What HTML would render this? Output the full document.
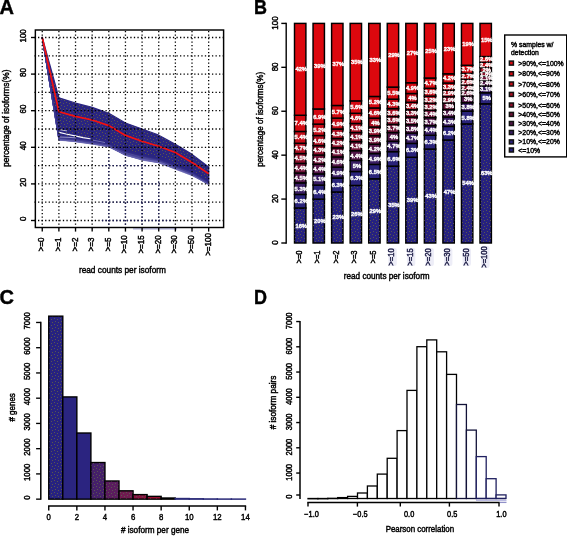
<!DOCTYPE html>
<html><head><meta charset="utf-8"><style>
html,body{margin:0;padding:0;background:#fff;}
svg{display:block;will-change:transform;}
text{font-family:"Liberation Sans", sans-serif;}
</style></head><body>
<svg width="567" height="536" viewBox="0 0 567 536">
<defs><clipPath id="clipA"><path d="M100,152 L126,158 L145,162 L165,190 L175,227 L100,227 Z"/></clipPath><pattern id="dots" patternUnits="userSpaceOnUse" x="0" y="0" width="6" height="6"><rect x="0" y="0" width="1" height="1" fill="#5a5650"/><rect x="3" y="1" width="1" height="1" fill="#5a5650"/><rect x="1" y="3" width="1" height="1" fill="#5a5650"/><rect x="4" y="4" width="1" height="1" fill="#5a5650"/></pattern></defs>
<rect x="0" y="0" width="567" height="536" fill="#fff"/>
<text transform="translate(-0.50,14.20)" font-size="20" text-anchor="start" font-weight="bold" fill="#000" stroke="#000" stroke-width="0.4" >A</text>
<path d="M42.25,37.50 L58.89,97.80 L75.53,103.20 L92.17,107.40 L108.81,113.30 L125.45,123.00 L142.09,129.00 L158.73,135.20 L175.37,144.30 L192.01,154.40 L208.65,167.00 L208.65,184.20 L192.01,174.80 L175.37,168.40 L158.73,162.00 L142.09,159.60 L125.45,155.20 L108.81,146.60 L92.17,143.50 L75.53,141.20 L58.89,139.50 L42.25,37.50 Z" fill="#8886c4" stroke="none" opacity="0.55"/>
<path d="M42.25,37.50 L58.89,97.80 L75.53,103.20 L92.17,107.40 L108.81,113.30 L125.45,123.00 L142.09,129.00 L158.73,135.20 L175.37,144.30 L192.01,154.40 L208.65,167.00 L208.65,182.70 L192.01,172.80 L175.37,165.60 L158.73,159.60 L142.09,156.00 L125.45,151.60 L108.81,144.60 L92.17,141.60 L75.53,139.40 L58.89,137.80 L42.25,37.50 Z" fill="#2a2581" stroke="#2a2581" stroke-width="1.3" stroke-linejoin="round"/>
<path d="M42.25,37.50 L58.89,97.80 L75.53,103.20 L92.17,107.40 L108.81,113.30 L125.45,123.00 L142.09,129.00 L158.73,135.20 L175.37,144.30 L192.01,154.40 L208.65,167.00 L208.65,182.70 L192.01,172.80 L175.37,165.60 L158.73,159.60 L142.09,156.00 L125.45,151.60 L108.81,144.60 L92.17,141.60 L75.53,139.40 L58.89,137.80 L42.25,37.50 Z" fill="url(#dots)" stroke="none"/>
<path d="M42.25,37.50 L58.89,137.00 L75.53,139.29 L92.17,140.87 L108.81,144.43 L125.45,151.87 L142.09,155.90 L158.73,159.60 L175.37,165.15 L192.01,172.51 L208.65,181.69" fill="none" stroke="#35308a" stroke-width="0.7"/>
<path d="M42.25,37.50 L58.89,136.30 L75.53,138.41 L92.17,139.79 L108.81,142.91 L125.45,150.63 L142.09,155.42 L158.73,158.41 L175.37,164.24 L192.01,172.02 L208.65,180.70" fill="none" stroke="#2b2682" stroke-width="0.7"/>
<path d="M42.25,37.50 L58.89,139.09 L75.53,140.69 L92.17,143.04 L108.81,146.26 L125.45,155.29 L142.09,158.93 L158.73,162.03 L175.37,168.37 L192.01,174.54 L208.65,184.03" fill="none" stroke="#5e5baa" stroke-width="0.7"/>
<path d="M42.25,37.50 L58.89,135.71 L75.53,137.51 L92.17,140.30 L108.81,142.99 L125.45,150.03 L142.09,154.76 L158.73,158.08 L175.37,163.93 L192.01,171.63 L208.65,181.34" fill="none" stroke="#2b2682" stroke-width="0.7"/>
<path d="M42.25,37.50 L58.89,137.18 L75.53,138.79 L92.17,141.47 L108.81,144.30 L125.45,151.29 L142.09,156.52 L158.73,158.73 L175.37,165.18 L192.01,172.53 L208.65,181.48" fill="none" stroke="#312c86" stroke-width="0.7"/>
<path d="M42.25,37.50 L58.89,137.50 L75.53,139.97 L92.17,142.40 L108.81,145.17 L125.45,153.44 L142.09,157.16 L158.73,160.60 L175.37,166.65 L192.01,173.38 L208.65,182.73" fill="none" stroke="#3f3b92" stroke-width="0.7"/>
<path d="M42.25,37.50 L58.89,139.81 L75.53,141.02 L92.17,143.62 L108.81,145.90 L125.45,155.06 L142.09,159.40 L158.73,162.45 L175.37,168.51 L192.01,174.37 L208.65,183.78" fill="none" stroke="#5c59a8" stroke-width="0.7"/>
<path d="M42.25,37.50 L58.89,138.13 L75.53,140.40 L92.17,142.39 L108.81,145.33 L125.45,153.42 L142.09,158.67 L158.73,160.71 L175.37,167.07 L192.01,173.86 L208.65,183.83" fill="none" stroke="#4d499c" stroke-width="0.7"/>
<path d="M42.25,37.50 L58.89,136.27 L75.53,138.02 L92.17,140.65 L108.81,143.57 L125.45,150.84 L142.09,154.53 L158.73,158.15 L175.37,164.12 L192.01,171.85 L208.65,181.74" fill="none" stroke="#2b2682" stroke-width="0.7"/>
<path d="M42.25,37.50 L58.89,136.29 L75.53,138.00 L92.17,140.25 L108.81,143.55 L125.45,151.03 L142.09,155.04 L158.73,158.08 L175.37,164.65 L192.01,171.61 L208.65,181.59" fill="none" stroke="#2d2884" stroke-width="0.7"/>
<path d="M42.25,37.50 L58.89,139.88 L75.53,141.46 L92.17,143.98 L108.81,147.05 L125.45,154.84 L142.09,160.25 L158.73,162.65 L175.37,169.05 L192.01,175.39 L208.65,184.13" fill="none" stroke="#6765b1" stroke-width="0.7"/>
<path d="M42.25,37.50 L58.89,137.24 L75.53,139.57 L92.17,141.18 L108.81,144.19 L125.45,152.13 L142.09,156.47 L158.73,159.76 L175.37,165.56 L192.01,172.31 L208.65,182.06" fill="none" stroke="#39358d" stroke-width="0.7"/>
<path d="M42.25,37.50 L58.89,136.28 L75.53,137.50 L92.17,140.75 L108.81,143.44 L125.45,150.14 L142.09,154.66 L158.73,158.20 L175.37,164.27 L192.01,171.05 L208.65,181.71" fill="none" stroke="#2c2782" stroke-width="0.7"/>
<path d="M42.25,37.50 L58.89,139.74 L75.53,141.56 L92.17,143.48 L108.81,146.50 L125.45,155.38 L142.09,159.68 L158.73,162.87 L175.37,168.37 L192.01,174.60 L208.65,184.92" fill="none" stroke="#6c69b4" stroke-width="0.7"/>
<path d="M42.25,37.50 L58.89,137.78 L75.53,139.97 L92.17,141.67 L108.81,145.27 L125.45,153.78 L142.09,158.04 L158.73,160.78 L175.37,166.43 L192.01,173.28 L208.65,182.52" fill="none" stroke="#423e94" stroke-width="0.7"/>
<path d="M42.25,37.50 L58.89,139.09 L75.53,141.15 L92.17,142.97 L108.81,145.84 L125.45,154.85 L142.09,159.46 L158.73,162.01 L175.37,168.19 L192.01,174.76 L208.65,184.00" fill="none" stroke="#5653a3" stroke-width="0.7"/>
<path d="M42.25,37.50 L58.89,137.04 L75.53,138.51 L92.17,140.38 L108.81,143.38 L125.45,151.17 L142.09,155.54 L158.73,159.33 L175.37,165.73 L192.01,172.08 L208.65,182.35" fill="none" stroke="#302b86" stroke-width="0.7"/>
<path d="M42.25,37.50 L58.89,140.31 L75.53,141.40 L92.17,143.62 L108.81,146.63 L125.45,155.18 L142.09,159.59 L158.73,162.60 L175.37,169.23 L192.01,175.57 L208.65,184.34" fill="none" stroke="#6b69b4" stroke-width="0.7"/>
<path d="M42.25,37.50 L58.89,139.00 L75.53,139.89 L92.17,142.92 L108.81,146.22 L125.45,154.21 L142.09,158.57 L158.73,161.06 L175.37,166.91 L192.01,174.28 L208.65,183.13" fill="none" stroke="#4c489b" stroke-width="0.7"/>
<path d="M42.25,37.50 L58.89,139.71 L75.53,140.79 L92.17,143.17 L108.81,146.82 L125.45,154.89 L142.09,158.63 L158.73,161.25 L175.37,167.53 L192.01,174.97 L208.65,184.17" fill="none" stroke="#5855a5" stroke-width="0.7"/>
<path d="M42.25,37.50 L58.89,137.05 L75.53,138.88 L92.17,140.73 L108.81,143.37 L125.45,150.95 L142.09,154.85 L158.73,158.07 L175.37,165.28 L192.01,171.92 L208.65,181.53" fill="none" stroke="#2d2883" stroke-width="0.7"/>
<path d="M42.25,37.50 L58.89,139.51 L75.53,141.82 L92.17,144.16 L108.81,146.42 L125.45,154.98 L142.09,159.43 L158.73,161.93 L175.37,168.63 L192.01,174.68 L208.65,184.11" fill="none" stroke="#6563af" stroke-width="0.7"/>
<path d="M42.25,37.50 L58.89,137.08 L75.53,138.05 L92.17,140.42 L108.81,143.57 L125.45,151.27 L142.09,155.09 L158.73,159.07 L175.37,164.63 L192.01,171.70 L208.65,181.46" fill="none" stroke="#2d2883" stroke-width="0.7"/>
<path d="M42.25,37.50 L58.89,135.89 L75.53,137.19 L92.17,139.19 L108.81,143.14 L125.45,149.46 L142.09,154.22 L158.73,158.07 L175.37,163.88 L192.01,170.77 L208.65,180.88" fill="none" stroke="#2a2581" stroke-width="0.7"/>
<path d="M42.25,37.50 L58.89,138.64 L75.53,139.55 L92.17,142.42 L108.81,145.05 L125.45,153.08 L142.09,158.08 L158.73,160.67 L175.37,166.92 L192.01,173.86 L208.65,183.51" fill="none" stroke="#444095" stroke-width="0.7"/>
<path d="M42.25,37.50 L58.89,138.02 L75.53,139.60 L92.17,141.91 L108.81,145.13 L125.45,152.67 L142.09,157.17 L158.73,160.13 L175.37,166.84 L192.01,173.33 L208.65,183.08" fill="none" stroke="#3c388f" stroke-width="0.7"/>
<path d="M59.2,132.4 L66,134.0 L75,135.9 L83,137.6 L90,138.8" stroke="#ffffff" stroke-width="1.1" fill="none" stroke-linecap="round"/>
<path d="M59.4,129.6 L63,130.3 L67,130.9" stroke="#ffffff" stroke-width="0.7" fill="none" opacity="0.9"/>
<path d="M59.5,137.0 L68,137.3 L76,137.9" stroke="#d8d8f0" stroke-width="0.7" fill="none" opacity="0.9"/>
<path d="M92,140.0 L100,141.5 L105,142.6" stroke="#c0c0e8" stroke-width="0.6" fill="none" opacity="0.8"/>
<path d="M42.25,37.50 L58.89,111.70 L75.53,116.40 L92.17,120.00 L108.81,125.60 L125.45,135.40 L142.09,141.30 L158.73,146.20 L175.37,152.50 L192.01,162.40 L208.65,173.80" fill="none" stroke="#f41010" stroke-width="1.7" stroke-linejoin="round"/>
<line x1="34.45" y1="37.50" x2="223.00" y2="37.50" stroke="#000" stroke-width="1.3" stroke-dasharray="1.3 2.25"/>
<line x1="34.45" y1="55.80" x2="223.00" y2="55.80" stroke="#000" stroke-width="1.3" stroke-dasharray="1.3 2.25"/>
<line x1="34.45" y1="74.10" x2="223.00" y2="74.10" stroke="#000" stroke-width="1.3" stroke-dasharray="1.3 2.25"/>
<line x1="34.45" y1="92.40" x2="223.00" y2="92.40" stroke="#000" stroke-width="1.3" stroke-dasharray="1.3 2.25"/>
<line x1="34.45" y1="110.70" x2="223.00" y2="110.70" stroke="#000" stroke-width="1.3" stroke-dasharray="1.3 2.25"/>
<line x1="34.45" y1="129.00" x2="223.00" y2="129.00" stroke="#000" stroke-width="1.3" stroke-dasharray="1.3 2.25"/>
<line x1="34.45" y1="147.30" x2="223.00" y2="147.30" stroke="#000" stroke-width="1.3" stroke-dasharray="1.3 2.25"/>
<line x1="34.45" y1="165.60" x2="223.00" y2="165.60" stroke="#000" stroke-width="1.3" stroke-dasharray="1.3 2.25"/>
<line x1="34.45" y1="183.90" x2="223.00" y2="183.90" stroke="#000" stroke-width="1.3" stroke-dasharray="1.3 2.25"/>
<line x1="34.45" y1="202.20" x2="223.00" y2="202.20" stroke="#000" stroke-width="1.3" stroke-dasharray="1.3 2.25"/>
<line x1="34.45" y1="220.50" x2="223.00" y2="220.50" stroke="#000" stroke-width="1.3" stroke-dasharray="1.3 2.25"/>
<line x1="42.25" y1="228.25" x2="42.25" y2="30.50" stroke="#000" stroke-width="1.3" stroke-dasharray="1.3 2.2"/>
<line x1="58.89" y1="228.25" x2="58.89" y2="30.50" stroke="#000" stroke-width="1.3" stroke-dasharray="1.3 2.2"/>
<line x1="75.53" y1="228.25" x2="75.53" y2="30.50" stroke="#000" stroke-width="1.3" stroke-dasharray="1.3 2.2"/>
<line x1="92.17" y1="228.25" x2="92.17" y2="30.50" stroke="#000" stroke-width="1.3" stroke-dasharray="1.3 2.2"/>
<line x1="108.81" y1="228.25" x2="108.81" y2="30.50" stroke="#000" stroke-width="1.3" stroke-dasharray="1.3 2.2"/>
<line x1="125.45" y1="228.25" x2="125.45" y2="30.50" stroke="#000" stroke-width="1.3" stroke-dasharray="1.3 2.2"/>
<line x1="142.09" y1="228.25" x2="142.09" y2="30.50" stroke="#000" stroke-width="1.3" stroke-dasharray="1.3 2.2"/>
<line x1="158.73" y1="228.25" x2="158.73" y2="30.50" stroke="#000" stroke-width="1.3" stroke-dasharray="1.3 2.2"/>
<line x1="175.37" y1="228.25" x2="175.37" y2="30.50" stroke="#000" stroke-width="1.3" stroke-dasharray="1.3 2.2"/>
<line x1="192.01" y1="228.25" x2="192.01" y2="30.50" stroke="#000" stroke-width="1.3" stroke-dasharray="1.3 2.2"/>
<line x1="208.65" y1="228.25" x2="208.65" y2="30.50" stroke="#000" stroke-width="1.3" stroke-dasharray="1.3 2.2"/>
<g clip-path="url(#clipA)">
<line x1="34.45" y1="37.50" x2="223.00" y2="37.50" stroke="#1a1a58" stroke-width="1.3" stroke-dasharray="1.3 2.25"/>
<line x1="34.45" y1="55.80" x2="223.00" y2="55.80" stroke="#1a1a58" stroke-width="1.3" stroke-dasharray="1.3 2.25"/>
<line x1="34.45" y1="74.10" x2="223.00" y2="74.10" stroke="#1a1a58" stroke-width="1.3" stroke-dasharray="1.3 2.25"/>
<line x1="34.45" y1="92.40" x2="223.00" y2="92.40" stroke="#1a1a58" stroke-width="1.3" stroke-dasharray="1.3 2.25"/>
<line x1="34.45" y1="110.70" x2="223.00" y2="110.70" stroke="#1a1a58" stroke-width="1.3" stroke-dasharray="1.3 2.25"/>
<line x1="34.45" y1="129.00" x2="223.00" y2="129.00" stroke="#1a1a58" stroke-width="1.3" stroke-dasharray="1.3 2.25"/>
<line x1="34.45" y1="147.30" x2="223.00" y2="147.30" stroke="#1a1a58" stroke-width="1.3" stroke-dasharray="1.3 2.25"/>
<line x1="34.45" y1="165.60" x2="223.00" y2="165.60" stroke="#1a1a58" stroke-width="1.3" stroke-dasharray="1.3 2.25"/>
<line x1="34.45" y1="183.90" x2="223.00" y2="183.90" stroke="#1a1a58" stroke-width="1.3" stroke-dasharray="1.3 2.25"/>
<line x1="34.45" y1="202.20" x2="223.00" y2="202.20" stroke="#1a1a58" stroke-width="1.3" stroke-dasharray="1.3 2.25"/>
<line x1="34.45" y1="220.50" x2="223.00" y2="220.50" stroke="#1a1a58" stroke-width="1.3" stroke-dasharray="1.3 2.25"/>
<line x1="42.25" y1="228.25" x2="42.25" y2="30.50" stroke="#1a1a58" stroke-width="1.3" stroke-dasharray="1.3 2.2"/>
<line x1="58.89" y1="228.25" x2="58.89" y2="30.50" stroke="#1a1a58" stroke-width="1.3" stroke-dasharray="1.3 2.2"/>
<line x1="75.53" y1="228.25" x2="75.53" y2="30.50" stroke="#1a1a58" stroke-width="1.3" stroke-dasharray="1.3 2.2"/>
<line x1="92.17" y1="228.25" x2="92.17" y2="30.50" stroke="#1a1a58" stroke-width="1.3" stroke-dasharray="1.3 2.2"/>
<line x1="108.81" y1="228.25" x2="108.81" y2="30.50" stroke="#1a1a58" stroke-width="1.3" stroke-dasharray="1.3 2.2"/>
<line x1="125.45" y1="228.25" x2="125.45" y2="30.50" stroke="#1a1a58" stroke-width="1.3" stroke-dasharray="1.3 2.2"/>
<line x1="142.09" y1="228.25" x2="142.09" y2="30.50" stroke="#1a1a58" stroke-width="1.3" stroke-dasharray="1.3 2.2"/>
<line x1="158.73" y1="228.25" x2="158.73" y2="30.50" stroke="#1a1a58" stroke-width="1.3" stroke-dasharray="1.3 2.2"/>
<line x1="175.37" y1="228.25" x2="175.37" y2="30.50" stroke="#1a1a58" stroke-width="1.3" stroke-dasharray="1.3 2.2"/>
<line x1="192.01" y1="228.25" x2="192.01" y2="30.50" stroke="#1a1a58" stroke-width="1.3" stroke-dasharray="1.3 2.2"/>
<line x1="208.65" y1="228.25" x2="208.65" y2="30.50" stroke="#1a1a58" stroke-width="1.3" stroke-dasharray="1.3 2.2"/>
</g>
<line x1="133.00" y1="228.80" x2="177.00" y2="228.80" stroke="#b0b0dc" stroke-width="1.3" />
<rect x="35.35" y="30.00" width="188.25" height="197.50" fill="none" stroke="#000" stroke-width="1.45" />
<line x1="31.00" y1="220.50" x2="35.35" y2="220.50" stroke="#000" stroke-width="1.35" />
<text transform="translate(25.60,218.90) rotate(-90) scale(1.0,1.12)" font-size="8" text-anchor="middle" font-weight="normal" fill="#000" stroke="#000" stroke-width="0.4" >0</text>
<line x1="31.00" y1="183.90" x2="35.35" y2="183.90" stroke="#000" stroke-width="1.35" />
<text transform="translate(25.60,182.30) rotate(-90) scale(1.0,1.12)" font-size="8" text-anchor="middle" font-weight="normal" fill="#000" stroke="#000" stroke-width="0.4" >20</text>
<line x1="31.00" y1="147.30" x2="35.35" y2="147.30" stroke="#000" stroke-width="1.35" />
<text transform="translate(25.60,145.70) rotate(-90) scale(1.0,1.12)" font-size="8" text-anchor="middle" font-weight="normal" fill="#000" stroke="#000" stroke-width="0.4" >40</text>
<line x1="31.00" y1="110.70" x2="35.35" y2="110.70" stroke="#000" stroke-width="1.35" />
<text transform="translate(25.60,109.10) rotate(-90) scale(1.0,1.12)" font-size="8" text-anchor="middle" font-weight="normal" fill="#000" stroke="#000" stroke-width="0.4" >60</text>
<line x1="31.00" y1="74.10" x2="35.35" y2="74.10" stroke="#000" stroke-width="1.35" />
<text transform="translate(25.60,72.50) rotate(-90) scale(1.0,1.12)" font-size="8" text-anchor="middle" font-weight="normal" fill="#000" stroke="#000" stroke-width="0.4" >80</text>
<line x1="31.00" y1="37.50" x2="35.35" y2="37.50" stroke="#000" stroke-width="1.35" />
<text transform="translate(25.60,35.90) rotate(-90) scale(1.0,1.12)" font-size="8" text-anchor="middle" font-weight="normal" fill="#000" stroke="#000" stroke-width="0.4" >100</text>
<line x1="42.25" y1="227.50" x2="42.25" y2="231.60" stroke="#000" stroke-width="1.35" />
<text transform="translate(44.25,244.50) rotate(-90) scale(1.0,1.12)" font-size="8" text-anchor="middle" font-weight="normal" fill="#000" stroke="#000" stroke-width="0.4" >&gt;=0</text>
<line x1="58.89" y1="227.50" x2="58.89" y2="231.60" stroke="#000" stroke-width="1.35" />
<text transform="translate(60.89,244.50) rotate(-90) scale(1.0,1.12)" font-size="8" text-anchor="middle" font-weight="normal" fill="#000" stroke="#000" stroke-width="0.4" >&gt;=1</text>
<line x1="75.53" y1="227.50" x2="75.53" y2="231.60" stroke="#000" stroke-width="1.35" />
<text transform="translate(77.53,244.50) rotate(-90) scale(1.0,1.12)" font-size="8" text-anchor="middle" font-weight="normal" fill="#000" stroke="#000" stroke-width="0.4" >&gt;=2</text>
<line x1="92.17" y1="227.50" x2="92.17" y2="231.60" stroke="#000" stroke-width="1.35" />
<text transform="translate(94.17,244.50) rotate(-90) scale(1.0,1.12)" font-size="8" text-anchor="middle" font-weight="normal" fill="#000" stroke="#000" stroke-width="0.4" >&gt;=3</text>
<line x1="108.81" y1="227.50" x2="108.81" y2="231.60" stroke="#000" stroke-width="1.35" />
<text transform="translate(110.81,244.50) rotate(-90) scale(1.0,1.12)" font-size="8" text-anchor="middle" font-weight="normal" fill="#000" stroke="#000" stroke-width="0.4" >&gt;=5</text>
<line x1="125.45" y1="227.50" x2="125.45" y2="231.60" stroke="#000" stroke-width="1.35" />
<text transform="translate(127.45,244.50) rotate(-90) scale(1.0,1.12)" font-size="8" text-anchor="middle" font-weight="normal" fill="#000" stroke="#000" stroke-width="0.4" >&gt;=10</text>
<line x1="142.09" y1="227.50" x2="142.09" y2="231.60" stroke="#000" stroke-width="1.35" />
<text transform="translate(144.09,244.50) rotate(-90) scale(1.0,1.12)" font-size="8" text-anchor="middle" font-weight="normal" fill="#000" stroke="#000" stroke-width="0.4" >&gt;=15</text>
<line x1="158.73" y1="227.50" x2="158.73" y2="231.60" stroke="#000" stroke-width="1.35" />
<text transform="translate(160.73,244.50) rotate(-90) scale(1.0,1.12)" font-size="8" text-anchor="middle" font-weight="normal" fill="#000" stroke="#000" stroke-width="0.4" >&gt;=20</text>
<line x1="175.37" y1="227.50" x2="175.37" y2="231.60" stroke="#000" stroke-width="1.35" />
<text transform="translate(177.37,244.50) rotate(-90) scale(1.0,1.12)" font-size="8" text-anchor="middle" font-weight="normal" fill="#000" stroke="#000" stroke-width="0.4" >&gt;=30</text>
<line x1="192.01" y1="227.50" x2="192.01" y2="231.60" stroke="#000" stroke-width="1.35" />
<text transform="translate(194.01,244.50) rotate(-90) scale(1.0,1.12)" font-size="8" text-anchor="middle" font-weight="normal" fill="#000" stroke="#000" stroke-width="0.4" >&gt;=50</text>
<line x1="208.65" y1="227.50" x2="208.65" y2="231.60" stroke="#000" stroke-width="1.35" />
<text transform="translate(210.65,244.50) rotate(-90) scale(1.0,1.12)" font-size="8" text-anchor="middle" font-weight="normal" fill="#000" stroke="#000" stroke-width="0.4" >&gt;=100</text>
<text transform="translate(122.40,273.00) scale(1.0,1.12)" font-size="8.3" text-anchor="middle" font-weight="normal" fill="#000" stroke="#000" stroke-width="0.4" >read counts per isoform</text>
<text transform="translate(9.20,118.20) rotate(-90) scale(1.0,1.12)" font-size="8.3" text-anchor="middle" font-weight="normal" fill="#000" stroke="#000" stroke-width="0.4" >percentage of isoforms(%)</text>
<text transform="translate(254.00,13.90) scale(0.9,1.0)" font-size="20" text-anchor="start" font-weight="bold" fill="#000" stroke="#000" stroke-width="0.4" >B</text>
<line x1="286.20" y1="22.80" x2="286.20" y2="243.70" stroke="#000" stroke-width="1.4" />
<line x1="281.30" y1="243.00" x2="286.20" y2="243.00" stroke="#000" stroke-width="1.4" />
<text transform="translate(277.80,242.60) rotate(-90) scale(1.0,1.12)" font-size="8" text-anchor="middle" font-weight="normal" fill="#000" stroke="#000" stroke-width="0.4" >0</text>
<line x1="281.30" y1="199.08" x2="286.20" y2="199.08" stroke="#000" stroke-width="1.4" />
<text transform="translate(277.80,198.68) rotate(-90) scale(1.0,1.12)" font-size="8" text-anchor="middle" font-weight="normal" fill="#000" stroke="#000" stroke-width="0.4" >20</text>
<line x1="281.30" y1="155.16" x2="286.20" y2="155.16" stroke="#000" stroke-width="1.4" />
<text transform="translate(277.80,154.76) rotate(-90) scale(1.0,1.12)" font-size="8" text-anchor="middle" font-weight="normal" fill="#000" stroke="#000" stroke-width="0.4" >40</text>
<line x1="281.30" y1="111.24" x2="286.20" y2="111.24" stroke="#000" stroke-width="1.4" />
<text transform="translate(277.80,110.84) rotate(-90) scale(1.0,1.12)" font-size="8" text-anchor="middle" font-weight="normal" fill="#000" stroke="#000" stroke-width="0.4" >60</text>
<line x1="281.30" y1="67.32" x2="286.20" y2="67.32" stroke="#000" stroke-width="1.4" />
<text transform="translate(277.80,66.92) rotate(-90) scale(1.0,1.12)" font-size="8" text-anchor="middle" font-weight="normal" fill="#000" stroke="#000" stroke-width="0.4" >80</text>
<line x1="281.30" y1="23.40" x2="286.20" y2="23.40" stroke="#000" stroke-width="1.4" />
<text transform="translate(277.80,23.00) rotate(-90) scale(1.0,1.12)" font-size="8" text-anchor="middle" font-weight="normal" fill="#000" stroke="#000" stroke-width="0.4" >100</text>
<rect x="294.50" y="208.00" width="11.40" height="35.00" fill="#262180" stroke="#000" stroke-width="1.45" />
<rect x="294.50" y="208.00" width="11.40" height="35.00" fill="url(#dots)" stroke="none" stroke-width="1" />
<rect x="294.50" y="194.44" width="11.40" height="13.56" fill="#2a237a" stroke="#000" stroke-width="1.45" />
<rect x="294.50" y="182.85" width="11.40" height="11.59" fill="#3a1e64" stroke="#000" stroke-width="1.45" />
<rect x="294.50" y="173.01" width="11.40" height="9.84" fill="#521648" stroke="#000" stroke-width="1.45" />
<rect x="294.50" y="163.38" width="11.40" height="9.62" fill="#6e1337" stroke="#000" stroke-width="1.45" />
<rect x="294.50" y="153.54" width="11.40" height="9.84" fill="#8c102a" stroke="#000" stroke-width="1.45" />
<rect x="294.50" y="143.26" width="11.40" height="10.28" fill="#aa0f21" stroke="#000" stroke-width="1.45" />
<rect x="294.50" y="131.45" width="11.40" height="11.81" fill="#c30d18" stroke="#000" stroke-width="1.45" />
<rect x="294.50" y="115.26" width="11.40" height="16.19" fill="#d40a12" stroke="#000" stroke-width="1.45" />
<rect x="294.50" y="23.40" width="11.40" height="91.86" fill="#dc080e" stroke="#000" stroke-width="1.45" />
<text transform="translate(301.20,227.50) scale(1.0,1.05)" font-size="5.8" text-anchor="middle" font-weight="bold" fill="#fff" stroke="#fff" stroke-width="0.35" >16%</text>
<text transform="translate(301.20,203.22) scale(1.0,1.05)" font-size="5.8" text-anchor="middle" font-weight="bold" fill="#fff" stroke="#fff" stroke-width="0.35" >6.2%</text>
<text transform="translate(301.20,190.65) scale(1.0,1.05)" font-size="5.8" text-anchor="middle" font-weight="bold" fill="#fff" stroke="#fff" stroke-width="0.35" >5.3%</text>
<text transform="translate(301.20,179.93) scale(1.0,1.05)" font-size="5.8" text-anchor="middle" font-weight="bold" fill="#fff" stroke="#fff" stroke-width="0.35" >4.5%</text>
<text transform="translate(301.20,170.20) scale(1.0,1.05)" font-size="5.8" text-anchor="middle" font-weight="bold" fill="#fff" stroke="#fff" stroke-width="0.35" >4.4%</text>
<text transform="translate(301.20,160.46) scale(1.0,1.05)" font-size="5.8" text-anchor="middle" font-weight="bold" fill="#fff" stroke="#fff" stroke-width="0.35" >4.5%</text>
<text transform="translate(301.20,150.40) scale(1.0,1.05)" font-size="5.8" text-anchor="middle" font-weight="bold" fill="#fff" stroke="#fff" stroke-width="0.35" >4.7%</text>
<text transform="translate(301.20,139.36) scale(1.0,1.05)" font-size="5.8" text-anchor="middle" font-weight="bold" fill="#fff" stroke="#fff" stroke-width="0.35" >5.4%</text>
<text transform="translate(301.20,125.36) scale(1.0,1.05)" font-size="5.8" text-anchor="middle" font-weight="bold" fill="#fff" stroke="#fff" stroke-width="0.35" >7.4%</text>
<text transform="translate(301.20,71.33) scale(1.0,1.05)" font-size="5.8" text-anchor="middle" font-weight="bold" fill="#fff" stroke="#fff" stroke-width="0.35" >42%</text>
<text transform="translate(301.60,257.00) rotate(-90) scale(1.0,1.12)" font-size="7.6" text-anchor="middle" font-weight="normal" fill="#000" stroke="#000" stroke-width="0.4" >&gt;=0</text>
<rect x="313.05" y="199.12" width="11.40" height="43.88" fill="#262180" stroke="#000" stroke-width="1.45" />
<rect x="313.05" y="199.12" width="11.40" height="43.88" fill="url(#dots)" stroke="none" stroke-width="1" />
<rect x="313.05" y="185.08" width="11.40" height="14.04" fill="#2a237a" stroke="#000" stroke-width="1.45" />
<rect x="313.05" y="173.90" width="11.40" height="11.19" fill="#3a1e64" stroke="#000" stroke-width="1.45" />
<rect x="313.05" y="164.24" width="11.40" height="9.65" fill="#521648" stroke="#000" stroke-width="1.45" />
<rect x="313.05" y="155.03" width="11.40" height="9.21" fill="#6e1337" stroke="#000" stroke-width="1.45" />
<rect x="313.05" y="145.60" width="11.40" height="9.43" fill="#8c102a" stroke="#000" stroke-width="1.45" />
<rect x="313.05" y="135.50" width="11.40" height="10.09" fill="#aa0f21" stroke="#000" stroke-width="1.45" />
<rect x="313.05" y="124.10" width="11.40" height="11.41" fill="#c30d18" stroke="#000" stroke-width="1.45" />
<rect x="313.05" y="108.96" width="11.40" height="15.14" fill="#d40a12" stroke="#000" stroke-width="1.45" />
<rect x="313.05" y="23.40" width="11.40" height="85.56" fill="#dc080e" stroke="#000" stroke-width="1.45" />
<text transform="translate(319.75,223.06) scale(1.0,1.05)" font-size="5.8" text-anchor="middle" font-weight="bold" fill="#fff" stroke="#fff" stroke-width="0.35" >20%</text>
<text transform="translate(319.75,194.10) scale(1.0,1.05)" font-size="5.8" text-anchor="middle" font-weight="bold" fill="#fff" stroke="#fff" stroke-width="0.35" >6.4%</text>
<text transform="translate(319.75,181.49) scale(1.0,1.05)" font-size="5.8" text-anchor="middle" font-weight="bold" fill="#fff" stroke="#fff" stroke-width="0.35" >5.1%</text>
<text transform="translate(319.75,171.07) scale(1.0,1.05)" font-size="5.8" text-anchor="middle" font-weight="bold" fill="#fff" stroke="#fff" stroke-width="0.35" >4.4%</text>
<text transform="translate(319.75,161.64) scale(1.0,1.05)" font-size="5.8" text-anchor="middle" font-weight="bold" fill="#fff" stroke="#fff" stroke-width="0.35" >4.2%</text>
<text transform="translate(319.75,152.31) scale(1.0,1.05)" font-size="5.8" text-anchor="middle" font-weight="bold" fill="#fff" stroke="#fff" stroke-width="0.35" >4.3%</text>
<text transform="translate(319.75,142.55) scale(1.0,1.05)" font-size="5.8" text-anchor="middle" font-weight="bold" fill="#fff" stroke="#fff" stroke-width="0.35" >4.6%</text>
<text transform="translate(319.75,131.80) scale(1.0,1.05)" font-size="5.8" text-anchor="middle" font-weight="bold" fill="#fff" stroke="#fff" stroke-width="0.35" >5.2%</text>
<text transform="translate(319.75,118.53) scale(1.0,1.05)" font-size="5.8" text-anchor="middle" font-weight="bold" fill="#fff" stroke="#fff" stroke-width="0.35" >6.9%</text>
<text transform="translate(319.75,68.18) scale(1.0,1.05)" font-size="5.8" text-anchor="middle" font-weight="bold" fill="#fff" stroke="#fff" stroke-width="0.35" >39%</text>
<text transform="translate(320.15,257.00) rotate(-90) scale(1.0,1.12)" font-size="7.6" text-anchor="middle" font-weight="normal" fill="#000" stroke="#000" stroke-width="0.4" >&gt;=1</text>
<rect x="331.60" y="191.98" width="11.40" height="51.02" fill="#262180" stroke="#000" stroke-width="1.45" />
<rect x="331.60" y="191.98" width="11.40" height="51.02" fill="url(#dots)" stroke="none" stroke-width="1" />
<rect x="331.60" y="178.01" width="11.40" height="13.97" fill="#2a237a" stroke="#000" stroke-width="1.45" />
<rect x="331.60" y="167.14" width="11.40" height="10.87" fill="#3a1e64" stroke="#000" stroke-width="1.45" />
<rect x="331.60" y="156.93" width="11.40" height="10.20" fill="#521648" stroke="#000" stroke-width="1.45" />
<rect x="331.60" y="147.84" width="11.40" height="9.09" fill="#6e1337" stroke="#000" stroke-width="1.45" />
<rect x="331.60" y="138.52" width="11.40" height="9.32" fill="#8c102a" stroke="#000" stroke-width="1.45" />
<rect x="331.60" y="128.99" width="11.40" height="9.54" fill="#aa0f21" stroke="#000" stroke-width="1.45" />
<rect x="331.60" y="118.12" width="11.40" height="10.87" fill="#c30d18" stroke="#000" stroke-width="1.45" />
<rect x="331.60" y="105.47" width="11.40" height="12.64" fill="#d40a12" stroke="#000" stroke-width="1.45" />
<rect x="331.60" y="23.40" width="11.40" height="82.07" fill="#dc080e" stroke="#000" stroke-width="1.45" />
<text transform="translate(338.30,219.49) scale(1.0,1.05)" font-size="5.8" text-anchor="middle" font-weight="bold" fill="#fff" stroke="#fff" stroke-width="0.35" >23%</text>
<text transform="translate(338.30,186.99) scale(1.0,1.05)" font-size="5.8" text-anchor="middle" font-weight="bold" fill="#fff" stroke="#fff" stroke-width="0.35" >6.3%</text>
<text transform="translate(338.30,174.57) scale(1.0,1.05)" font-size="5.8" text-anchor="middle" font-weight="bold" fill="#fff" stroke="#fff" stroke-width="0.35" >4.9%</text>
<text transform="translate(338.30,164.04) scale(1.0,1.05)" font-size="5.8" text-anchor="middle" font-weight="bold" fill="#fff" stroke="#fff" stroke-width="0.35" >4.6%</text>
<text transform="translate(338.30,154.39) scale(1.0,1.05)" font-size="5.8" text-anchor="middle" font-weight="bold" fill="#fff" stroke="#fff" stroke-width="0.35" >4.1%</text>
<text transform="translate(338.30,145.18) scale(1.0,1.05)" font-size="5.8" text-anchor="middle" font-weight="bold" fill="#fff" stroke="#fff" stroke-width="0.35" >4.2%</text>
<text transform="translate(338.30,135.75) scale(1.0,1.05)" font-size="5.8" text-anchor="middle" font-weight="bold" fill="#fff" stroke="#fff" stroke-width="0.35" >4.3%</text>
<text transform="translate(338.30,125.55) scale(1.0,1.05)" font-size="5.8" text-anchor="middle" font-weight="bold" fill="#fff" stroke="#fff" stroke-width="0.35" >4.9%</text>
<text transform="translate(338.30,113.79) scale(1.0,1.05)" font-size="5.8" text-anchor="middle" font-weight="bold" fill="#fff" stroke="#fff" stroke-width="0.35" >5.7%</text>
<text transform="translate(338.30,66.44) scale(1.0,1.05)" font-size="5.8" text-anchor="middle" font-weight="bold" fill="#fff" stroke="#fff" stroke-width="0.35" >37%</text>
<text transform="translate(338.70,257.00) rotate(-90) scale(1.0,1.12)" font-size="7.6" text-anchor="middle" font-weight="normal" fill="#000" stroke="#000" stroke-width="0.4" >&gt;=2</text>
<rect x="350.15" y="185.44" width="11.40" height="57.56" fill="#262180" stroke="#000" stroke-width="1.45" />
<rect x="350.15" y="185.44" width="11.40" height="57.56" fill="url(#dots)" stroke="none" stroke-width="1" />
<rect x="350.15" y="171.50" width="11.40" height="13.95" fill="#2a237a" stroke="#000" stroke-width="1.45" />
<rect x="350.15" y="160.43" width="11.40" height="11.07" fill="#3a1e64" stroke="#000" stroke-width="1.45" />
<rect x="350.15" y="150.69" width="11.40" height="9.74" fill="#521648" stroke="#000" stroke-width="1.45" />
<rect x="350.15" y="141.61" width="11.40" height="9.08" fill="#6e1337" stroke="#000" stroke-width="1.45" />
<rect x="350.15" y="132.54" width="11.40" height="9.08" fill="#8c102a" stroke="#000" stroke-width="1.45" />
<rect x="350.15" y="123.46" width="11.40" height="9.08" fill="#aa0f21" stroke="#000" stroke-width="1.45" />
<rect x="350.15" y="113.28" width="11.40" height="10.18" fill="#c30d18" stroke="#000" stroke-width="1.45" />
<rect x="350.15" y="100.88" width="11.40" height="12.40" fill="#d40a12" stroke="#000" stroke-width="1.45" />
<rect x="350.15" y="23.40" width="11.40" height="77.48" fill="#dc080e" stroke="#000" stroke-width="1.45" />
<text transform="translate(356.85,216.22) scale(1.0,1.05)" font-size="5.8" text-anchor="middle" font-weight="bold" fill="#fff" stroke="#fff" stroke-width="0.35" >26%</text>
<text transform="translate(356.85,180.47) scale(1.0,1.05)" font-size="5.8" text-anchor="middle" font-weight="bold" fill="#fff" stroke="#fff" stroke-width="0.35" >6.3%</text>
<text transform="translate(356.85,167.96) scale(1.0,1.05)" font-size="5.8" text-anchor="middle" font-weight="bold" fill="#fff" stroke="#fff" stroke-width="0.35" >5%</text>
<text transform="translate(356.85,157.56) scale(1.0,1.05)" font-size="5.8" text-anchor="middle" font-weight="bold" fill="#fff" stroke="#fff" stroke-width="0.35" >4.4%</text>
<text transform="translate(356.85,148.15) scale(1.0,1.05)" font-size="5.8" text-anchor="middle" font-weight="bold" fill="#fff" stroke="#fff" stroke-width="0.35" >4.1%</text>
<text transform="translate(356.85,139.07) scale(1.0,1.05)" font-size="5.8" text-anchor="middle" font-weight="bold" fill="#fff" stroke="#fff" stroke-width="0.35" >4.1%</text>
<text transform="translate(356.85,130.00) scale(1.0,1.05)" font-size="5.8" text-anchor="middle" font-weight="bold" fill="#fff" stroke="#fff" stroke-width="0.35" >4.1%</text>
<text transform="translate(356.85,120.37) scale(1.0,1.05)" font-size="5.8" text-anchor="middle" font-weight="bold" fill="#fff" stroke="#fff" stroke-width="0.35" >4.6%</text>
<text transform="translate(356.85,109.08) scale(1.0,1.05)" font-size="5.8" text-anchor="middle" font-weight="bold" fill="#fff" stroke="#fff" stroke-width="0.35" >5.6%</text>
<text transform="translate(356.85,64.14) scale(1.0,1.05)" font-size="5.8" text-anchor="middle" font-weight="bold" fill="#fff" stroke="#fff" stroke-width="0.35" >35%</text>
<text transform="translate(357.25,257.00) rotate(-90) scale(1.0,1.12)" font-size="7.6" text-anchor="middle" font-weight="normal" fill="#000" stroke="#000" stroke-width="0.4" >&gt;=3</text>
<rect x="368.70" y="178.80" width="11.40" height="64.20" fill="#262180" stroke="#000" stroke-width="1.45" />
<rect x="368.70" y="178.80" width="11.40" height="64.20" fill="url(#dots)" stroke="none" stroke-width="1" />
<rect x="368.70" y="164.41" width="11.40" height="14.39" fill="#2a237a" stroke="#000" stroke-width="1.45" />
<rect x="368.70" y="153.57" width="11.40" height="10.85" fill="#3a1e64" stroke="#000" stroke-width="1.45" />
<rect x="368.70" y="144.27" width="11.40" height="9.30" fill="#521648" stroke="#000" stroke-width="1.45" />
<rect x="368.70" y="135.64" width="11.40" height="8.63" fill="#6e1337" stroke="#000" stroke-width="1.45" />
<rect x="368.70" y="127.00" width="11.40" height="8.63" fill="#8c102a" stroke="#000" stroke-width="1.45" />
<rect x="368.70" y="118.15" width="11.40" height="8.85" fill="#aa0f21" stroke="#000" stroke-width="1.45" />
<rect x="368.70" y="107.96" width="11.40" height="10.18" fill="#c30d18" stroke="#000" stroke-width="1.45" />
<rect x="368.70" y="96.45" width="11.40" height="11.51" fill="#d40a12" stroke="#000" stroke-width="1.45" />
<rect x="368.70" y="23.40" width="11.40" height="73.05" fill="#dc080e" stroke="#000" stroke-width="1.45" />
<text transform="translate(375.40,212.90) scale(1.0,1.05)" font-size="5.8" text-anchor="middle" font-weight="bold" fill="#fff" stroke="#fff" stroke-width="0.35" >29%</text>
<text transform="translate(375.40,173.61) scale(1.0,1.05)" font-size="5.8" text-anchor="middle" font-weight="bold" fill="#fff" stroke="#fff" stroke-width="0.35" >6.5%</text>
<text transform="translate(375.40,160.99) scale(1.0,1.05)" font-size="5.8" text-anchor="middle" font-weight="bold" fill="#fff" stroke="#fff" stroke-width="0.35" >4.9%</text>
<text transform="translate(375.40,150.92) scale(1.0,1.05)" font-size="5.8" text-anchor="middle" font-weight="bold" fill="#fff" stroke="#fff" stroke-width="0.35" >4.2%</text>
<text transform="translate(375.40,141.95) scale(1.0,1.05)" font-size="5.8" text-anchor="middle" font-weight="bold" fill="#fff" stroke="#fff" stroke-width="0.35" >3.9%</text>
<text transform="translate(375.40,133.32) scale(1.0,1.05)" font-size="5.8" text-anchor="middle" font-weight="bold" fill="#fff" stroke="#fff" stroke-width="0.35" >3.9%</text>
<text transform="translate(375.40,124.57) scale(1.0,1.05)" font-size="5.8" text-anchor="middle" font-weight="bold" fill="#fff" stroke="#fff" stroke-width="0.35" >4%</text>
<text transform="translate(375.40,115.06) scale(1.0,1.05)" font-size="5.8" text-anchor="middle" font-weight="bold" fill="#fff" stroke="#fff" stroke-width="0.35" >4.6%</text>
<text transform="translate(375.40,104.21) scale(1.0,1.05)" font-size="5.8" text-anchor="middle" font-weight="bold" fill="#fff" stroke="#fff" stroke-width="0.35" >5.2%</text>
<text transform="translate(375.40,61.93) scale(1.0,1.05)" font-size="5.8" text-anchor="middle" font-weight="bold" fill="#fff" stroke="#fff" stroke-width="0.35" >33%</text>
<text transform="translate(375.80,257.00) rotate(-90) scale(1.0,1.12)" font-size="7.6" text-anchor="middle" font-weight="normal" fill="#000" stroke="#000" stroke-width="0.4" >&gt;=5</text>
<rect x="387.25" y="166.14" width="11.40" height="76.86" fill="#262180" stroke="#000" stroke-width="1.45" />
<rect x="387.25" y="166.14" width="11.40" height="76.86" fill="url(#dots)" stroke="none" stroke-width="1" />
<rect x="387.25" y="151.65" width="11.40" height="14.49" fill="#2a237a" stroke="#000" stroke-width="1.45" />
<rect x="387.25" y="141.33" width="11.40" height="10.32" fill="#3a1e64" stroke="#000" stroke-width="1.45" />
<rect x="387.25" y="132.54" width="11.40" height="8.78" fill="#521648" stroke="#000" stroke-width="1.45" />
<rect x="387.25" y="124.42" width="11.40" height="8.13" fill="#6e1337" stroke="#000" stroke-width="1.45" />
<rect x="387.25" y="116.51" width="11.40" height="7.91" fill="#8c102a" stroke="#000" stroke-width="1.45" />
<rect x="387.25" y="108.60" width="11.40" height="7.91" fill="#aa0f21" stroke="#000" stroke-width="1.45" />
<rect x="387.25" y="99.16" width="11.40" height="9.44" fill="#c30d18" stroke="#000" stroke-width="1.45" />
<rect x="387.25" y="87.08" width="11.40" height="12.08" fill="#d40a12" stroke="#000" stroke-width="1.45" />
<rect x="387.25" y="23.40" width="11.40" height="63.68" fill="#dc080e" stroke="#000" stroke-width="1.45" />
<text transform="translate(393.95,206.57) scale(1.0,1.05)" font-size="5.8" text-anchor="middle" font-weight="bold" fill="#fff" stroke="#fff" stroke-width="0.35" >35%</text>
<text transform="translate(393.95,160.89) scale(1.0,1.05)" font-size="5.8" text-anchor="middle" font-weight="bold" fill="#fff" stroke="#fff" stroke-width="0.35" >6.6%</text>
<text transform="translate(393.95,148.49) scale(1.0,1.05)" font-size="5.8" text-anchor="middle" font-weight="bold" fill="#fff" stroke="#fff" stroke-width="0.35" >4.7%</text>
<text transform="translate(393.95,138.93) scale(1.0,1.05)" font-size="5.8" text-anchor="middle" font-weight="bold" fill="#fff" stroke="#fff" stroke-width="0.35" >4%</text>
<text transform="translate(393.95,130.48) scale(1.0,1.05)" font-size="5.8" text-anchor="middle" font-weight="bold" fill="#fff" stroke="#fff" stroke-width="0.35" >3.7%</text>
<text transform="translate(393.95,122.46) scale(1.0,1.05)" font-size="5.8" text-anchor="middle" font-weight="bold" fill="#fff" stroke="#fff" stroke-width="0.35" >3.6%</text>
<text transform="translate(393.95,114.56) scale(1.0,1.05)" font-size="5.8" text-anchor="middle" font-weight="bold" fill="#fff" stroke="#fff" stroke-width="0.35" >3.6%</text>
<text transform="translate(393.95,105.88) scale(1.0,1.05)" font-size="5.8" text-anchor="middle" font-weight="bold" fill="#fff" stroke="#fff" stroke-width="0.35" >4.3%</text>
<text transform="translate(393.95,95.12) scale(1.0,1.05)" font-size="5.8" text-anchor="middle" font-weight="bold" fill="#fff" stroke="#fff" stroke-width="0.35" >5.5%</text>
<text transform="translate(393.95,57.24) scale(1.0,1.05)" font-size="5.8" text-anchor="middle" font-weight="bold" fill="#fff" stroke="#fff" stroke-width="0.35" >29%</text>
<rect x="388.35" y="248.00" width="8.4" height="18" rx="2" fill="#ededf7"/>
<text transform="translate(394.35,257.00) rotate(-90) scale(1.0,1.12)" font-size="7.6" text-anchor="middle" font-weight="normal" fill="#22224a" stroke="#22224a" stroke-width="0.4" >&gt;=10</text>
<rect x="405.80" y="157.27" width="11.40" height="85.73" fill="#262180" stroke="#000" stroke-width="1.45" />
<rect x="405.80" y="157.27" width="11.40" height="85.73" fill="url(#dots)" stroke="none" stroke-width="1" />
<rect x="405.80" y="143.42" width="11.40" height="13.85" fill="#2a237a" stroke="#000" stroke-width="1.45" />
<rect x="405.80" y="133.09" width="11.40" height="10.33" fill="#3a1e64" stroke="#000" stroke-width="1.45" />
<rect x="405.80" y="124.74" width="11.40" height="8.35" fill="#521648" stroke="#000" stroke-width="1.45" />
<rect x="405.80" y="117.04" width="11.40" height="7.69" fill="#6e1337" stroke="#000" stroke-width="1.45" />
<rect x="405.80" y="109.79" width="11.40" height="7.25" fill="#8c102a" stroke="#000" stroke-width="1.45" />
<rect x="405.80" y="102.32" width="11.40" height="7.47" fill="#aa0f21" stroke="#000" stroke-width="1.45" />
<rect x="405.80" y="93.52" width="11.40" height="8.79" fill="#c30d18" stroke="#000" stroke-width="1.45" />
<rect x="405.80" y="82.75" width="11.40" height="10.77" fill="#d40a12" stroke="#000" stroke-width="1.45" />
<rect x="405.80" y="23.40" width="11.40" height="59.35" fill="#dc080e" stroke="#000" stroke-width="1.45" />
<text transform="translate(412.50,202.14) scale(1.0,1.05)" font-size="5.8" text-anchor="middle" font-weight="bold" fill="#fff" stroke="#fff" stroke-width="0.35" >39%</text>
<text transform="translate(412.50,152.35) scale(1.0,1.05)" font-size="5.8" text-anchor="middle" font-weight="bold" fill="#fff" stroke="#fff" stroke-width="0.35" >6.3%</text>
<text transform="translate(412.50,140.26) scale(1.0,1.05)" font-size="5.8" text-anchor="middle" font-weight="bold" fill="#fff" stroke="#fff" stroke-width="0.35" >4.7%</text>
<text transform="translate(412.50,130.91) scale(1.0,1.05)" font-size="5.8" text-anchor="middle" font-weight="bold" fill="#fff" stroke="#fff" stroke-width="0.35" >3.8%</text>
<text transform="translate(412.50,122.89) scale(1.0,1.05)" font-size="5.8" text-anchor="middle" font-weight="bold" fill="#fff" stroke="#fff" stroke-width="0.35" >3.5%</text>
<text transform="translate(412.50,115.42) scale(1.0,1.05)" font-size="5.8" text-anchor="middle" font-weight="bold" fill="#fff" stroke="#fff" stroke-width="0.35" >3.3%</text>
<text transform="translate(412.50,108.05) scale(1.0,1.05)" font-size="5.8" text-anchor="middle" font-weight="bold" fill="#fff" stroke="#fff" stroke-width="0.35" >3.4%</text>
<text transform="translate(412.50,99.92) scale(1.0,1.05)" font-size="5.8" text-anchor="middle" font-weight="bold" fill="#fff" stroke="#fff" stroke-width="0.35" >4%</text>
<text transform="translate(412.50,90.14) scale(1.0,1.05)" font-size="5.8" text-anchor="middle" font-weight="bold" fill="#fff" stroke="#fff" stroke-width="0.35" >4.9%</text>
<text transform="translate(412.50,55.08) scale(1.0,1.05)" font-size="5.8" text-anchor="middle" font-weight="bold" fill="#fff" stroke="#fff" stroke-width="0.35" >27%</text>
<rect x="406.90" y="248.00" width="8.4" height="18" rx="2" fill="#ededf7"/>
<text transform="translate(412.90,257.00) rotate(-90) scale(1.0,1.12)" font-size="7.6" text-anchor="middle" font-weight="normal" fill="#22224a" stroke="#22224a" stroke-width="0.4" >&gt;=15</text>
<rect x="424.35" y="149.04" width="11.40" height="93.96" fill="#262180" stroke="#000" stroke-width="1.45" />
<rect x="424.35" y="149.04" width="11.40" height="93.96" fill="url(#dots)" stroke="none" stroke-width="1" />
<rect x="424.35" y="135.28" width="11.40" height="13.77" fill="#2a237a" stroke="#000" stroke-width="1.45" />
<rect x="424.35" y="125.66" width="11.40" height="9.61" fill="#3a1e64" stroke="#000" stroke-width="1.45" />
<rect x="424.35" y="117.58" width="11.40" height="8.08" fill="#521648" stroke="#000" stroke-width="1.45" />
<rect x="424.35" y="110.15" width="11.40" height="7.43" fill="#6e1337" stroke="#000" stroke-width="1.45" />
<rect x="424.35" y="103.16" width="11.40" height="6.99" fill="#8c102a" stroke="#000" stroke-width="1.45" />
<rect x="424.35" y="96.16" width="11.40" height="6.99" fill="#aa0f21" stroke="#000" stroke-width="1.45" />
<rect x="424.35" y="88.30" width="11.40" height="7.87" fill="#c30d18" stroke="#000" stroke-width="1.45" />
<rect x="424.35" y="78.03" width="11.40" height="10.27" fill="#d40a12" stroke="#000" stroke-width="1.45" />
<rect x="424.35" y="23.40" width="11.40" height="54.63" fill="#dc080e" stroke="#000" stroke-width="1.45" />
<text transform="translate(431.05,198.02) scale(1.0,1.05)" font-size="5.8" text-anchor="middle" font-weight="bold" fill="#fff" stroke="#fff" stroke-width="0.35" >43%</text>
<text transform="translate(431.05,144.16) scale(1.0,1.05)" font-size="5.8" text-anchor="middle" font-weight="bold" fill="#fff" stroke="#fff" stroke-width="0.35" >6.3%</text>
<text transform="translate(431.05,132.47) scale(1.0,1.05)" font-size="5.8" text-anchor="middle" font-weight="bold" fill="#fff" stroke="#fff" stroke-width="0.35" >4.4%</text>
<text transform="translate(431.05,123.62) scale(1.0,1.05)" font-size="5.8" text-anchor="middle" font-weight="bold" fill="#fff" stroke="#fff" stroke-width="0.35" >3.7%</text>
<text transform="translate(431.05,115.86) scale(1.0,1.05)" font-size="5.8" text-anchor="middle" font-weight="bold" fill="#fff" stroke="#fff" stroke-width="0.35" >3.4%</text>
<text transform="translate(431.05,108.65) scale(1.0,1.05)" font-size="5.8" text-anchor="middle" font-weight="bold" fill="#fff" stroke="#fff" stroke-width="0.35" >3.2%</text>
<text transform="translate(431.05,101.66) scale(1.0,1.05)" font-size="5.8" text-anchor="middle" font-weight="bold" fill="#fff" stroke="#fff" stroke-width="0.35" >3.2%</text>
<text transform="translate(431.05,94.23) scale(1.0,1.05)" font-size="5.8" text-anchor="middle" font-weight="bold" fill="#fff" stroke="#fff" stroke-width="0.35" >3.6%</text>
<text transform="translate(431.05,85.16) scale(1.0,1.05)" font-size="5.8" text-anchor="middle" font-weight="bold" fill="#fff" stroke="#fff" stroke-width="0.35" >4.7%</text>
<text transform="translate(431.05,52.71) scale(1.0,1.05)" font-size="5.8" text-anchor="middle" font-weight="bold" fill="#fff" stroke="#fff" stroke-width="0.35" >25%</text>
<rect x="425.45" y="248.00" width="8.4" height="18" rx="2" fill="#ededf7"/>
<text transform="translate(431.45,257.00) rotate(-90) scale(1.0,1.12)" font-size="7.6" text-anchor="middle" font-weight="normal" fill="#22224a" stroke="#22224a" stroke-width="0.4" >&gt;=20</text>
<rect x="442.90" y="139.99" width="11.40" height="103.01" fill="#262180" stroke="#000" stroke-width="1.45" />
<rect x="442.90" y="139.99" width="11.40" height="103.01" fill="url(#dots)" stroke="none" stroke-width="1" />
<rect x="442.90" y="126.41" width="11.40" height="13.59" fill="#2a237a" stroke="#000" stroke-width="1.45" />
<rect x="442.90" y="116.98" width="11.40" height="9.42" fill="#3a1e64" stroke="#000" stroke-width="1.45" />
<rect x="442.90" y="109.53" width="11.40" height="7.45" fill="#521648" stroke="#000" stroke-width="1.45" />
<rect x="442.90" y="102.96" width="11.40" height="6.57" fill="#6e1337" stroke="#000" stroke-width="1.45" />
<rect x="442.90" y="96.60" width="11.40" height="6.36" fill="#8c102a" stroke="#000" stroke-width="1.45" />
<rect x="442.90" y="90.24" width="11.40" height="6.36" fill="#aa0f21" stroke="#000" stroke-width="1.45" />
<rect x="442.90" y="83.01" width="11.40" height="7.23" fill="#c30d18" stroke="#000" stroke-width="1.45" />
<rect x="442.90" y="73.81" width="11.40" height="9.20" fill="#d40a12" stroke="#000" stroke-width="1.45" />
<rect x="442.90" y="23.40" width="11.40" height="50.41" fill="#dc080e" stroke="#000" stroke-width="1.45" />
<text transform="translate(449.60,193.50) scale(1.0,1.05)" font-size="5.8" text-anchor="middle" font-weight="bold" fill="#fff" stroke="#fff" stroke-width="0.35" >47%</text>
<text transform="translate(449.60,135.20) scale(1.0,1.05)" font-size="5.8" text-anchor="middle" font-weight="bold" fill="#fff" stroke="#fff" stroke-width="0.35" >6.2%</text>
<text transform="translate(449.60,123.69) scale(1.0,1.05)" font-size="5.8" text-anchor="middle" font-weight="bold" fill="#fff" stroke="#fff" stroke-width="0.35" >4.3%</text>
<text transform="translate(449.60,115.26) scale(1.0,1.05)" font-size="5.8" text-anchor="middle" font-weight="bold" fill="#fff" stroke="#fff" stroke-width="0.35" >3.4%</text>
<text transform="translate(449.60,108.24) scale(1.0,1.05)" font-size="5.8" text-anchor="middle" font-weight="bold" fill="#fff" stroke="#fff" stroke-width="0.35" >3%</text>
<text transform="translate(449.60,101.78) scale(1.0,1.05)" font-size="5.8" text-anchor="middle" font-weight="bold" fill="#fff" stroke="#fff" stroke-width="0.35" >2.9%</text>
<text transform="translate(449.60,95.42) scale(1.0,1.05)" font-size="5.8" text-anchor="middle" font-weight="bold" fill="#fff" stroke="#fff" stroke-width="0.35" >2.9%</text>
<text transform="translate(449.60,88.63) scale(1.0,1.05)" font-size="5.8" text-anchor="middle" font-weight="bold" fill="#fff" stroke="#fff" stroke-width="0.35" >3.3%</text>
<text transform="translate(449.60,80.41) scale(1.0,1.05)" font-size="5.8" text-anchor="middle" font-weight="bold" fill="#fff" stroke="#fff" stroke-width="0.35" >4.2%</text>
<text transform="translate(449.60,50.60) scale(1.0,1.05)" font-size="5.8" text-anchor="middle" font-weight="bold" fill="#fff" stroke="#fff" stroke-width="0.35" >23%</text>
<rect x="444.00" y="248.00" width="8.4" height="18" rx="2" fill="#ededf7"/>
<text transform="translate(450.00,257.00) rotate(-90) scale(1.0,1.12)" font-size="7.6" text-anchor="middle" font-weight="normal" fill="#22224a" stroke="#22224a" stroke-width="0.4" >&gt;=30</text>
<rect x="461.45" y="123.94" width="11.40" height="119.06" fill="#262180" stroke="#000" stroke-width="1.45" />
<rect x="461.45" y="123.94" width="11.40" height="119.06" fill="url(#dots)" stroke="none" stroke-width="1" />
<rect x="461.45" y="111.15" width="11.40" height="12.79" fill="#2a237a" stroke="#000" stroke-width="1.45" />
<rect x="461.45" y="102.77" width="11.40" height="8.38" fill="#3a1e64" stroke="#000" stroke-width="1.45" />
<rect x="461.45" y="96.16" width="11.40" height="6.61" fill="#521648" stroke="#000" stroke-width="1.45" />
<rect x="461.45" y="90.43" width="11.40" height="5.73" fill="#6e1337" stroke="#000" stroke-width="1.45" />
<rect x="461.45" y="85.13" width="11.40" height="5.29" fill="#8c102a" stroke="#000" stroke-width="1.45" />
<rect x="461.45" y="79.40" width="11.40" height="5.73" fill="#aa0f21" stroke="#000" stroke-width="1.45" />
<rect x="461.45" y="73.45" width="11.40" height="5.95" fill="#c30d18" stroke="#000" stroke-width="1.45" />
<rect x="461.45" y="65.29" width="11.40" height="8.16" fill="#d40a12" stroke="#000" stroke-width="1.45" />
<rect x="461.45" y="23.40" width="11.40" height="41.89" fill="#dc080e" stroke="#000" stroke-width="1.45" />
<text transform="translate(468.15,185.47) scale(1.0,1.05)" font-size="5.8" text-anchor="middle" font-weight="bold" fill="#fff" stroke="#fff" stroke-width="0.35" >54%</text>
<text transform="translate(468.15,119.55) scale(1.0,1.05)" font-size="5.8" text-anchor="middle" font-weight="bold" fill="#fff" stroke="#fff" stroke-width="0.35" >5.8%</text>
<text transform="translate(468.15,108.96) scale(1.0,1.05)" font-size="5.8" text-anchor="middle" font-weight="bold" fill="#fff" stroke="#fff" stroke-width="0.35" >3.8%</text>
<text transform="translate(468.15,101.47) scale(1.0,1.05)" font-size="5.8" text-anchor="middle" font-weight="bold" fill="#fff" stroke="#fff" stroke-width="0.35" >3%</text>
<text transform="translate(468.15,95.29) scale(1.0,1.05)" font-size="5.8" text-anchor="middle" font-weight="bold" fill="#fff" stroke="#fff" stroke-width="0.35" >2.6%</text>
<text transform="translate(468.15,89.78) scale(1.0,1.05)" font-size="5.8" text-anchor="middle" font-weight="bold" fill="#fff" stroke="#fff" stroke-width="0.35" >2.4%</text>
<text transform="translate(468.15,84.27) scale(1.0,1.05)" font-size="5.8" text-anchor="middle" font-weight="bold" fill="#fff" stroke="#fff" stroke-width="0.35" >2.6%</text>
<text transform="translate(468.15,78.43) scale(1.0,1.05)" font-size="5.8" text-anchor="middle" font-weight="bold" fill="#fff" stroke="#fff" stroke-width="0.35" >2.7%</text>
<text transform="translate(468.15,71.37) scale(1.0,1.05)" font-size="5.8" text-anchor="middle" font-weight="bold" fill="#fff" stroke="#fff" stroke-width="0.35" >3.7%</text>
<text transform="translate(468.15,46.35) scale(1.0,1.05)" font-size="5.8" text-anchor="middle" font-weight="bold" fill="#fff" stroke="#fff" stroke-width="0.35" >19%</text>
<rect x="462.55" y="248.00" width="8.4" height="18" rx="2" fill="#ededf7"/>
<text transform="translate(468.55,257.00) rotate(-90) scale(1.0,1.12)" font-size="7.6" text-anchor="middle" font-weight="normal" fill="#22224a" stroke="#22224a" stroke-width="0.4" >&gt;=50</text>
<rect x="480.00" y="103.82" width="11.40" height="139.18" fill="#262180" stroke="#000" stroke-width="1.45" />
<rect x="480.00" y="103.82" width="11.40" height="139.18" fill="url(#dots)" stroke="none" stroke-width="1" />
<rect x="480.00" y="92.77" width="11.40" height="11.05" fill="#2a237a" stroke="#000" stroke-width="1.45" />
<rect x="480.00" y="85.92" width="11.40" height="6.85" fill="#3a1e64" stroke="#000" stroke-width="1.45" />
<rect x="480.00" y="80.62" width="11.40" height="5.30" fill="#521648" stroke="#000" stroke-width="1.45" />
<rect x="480.00" y="75.98" width="11.40" height="4.64" fill="#6e1337" stroke="#000" stroke-width="1.45" />
<rect x="480.00" y="72.00" width="11.40" height="3.98" fill="#8c102a" stroke="#000" stroke-width="1.45" />
<rect x="480.00" y="67.59" width="11.40" height="4.42" fill="#aa0f21" stroke="#000" stroke-width="1.45" />
<rect x="480.00" y="62.28" width="11.40" height="5.30" fill="#c30d18" stroke="#000" stroke-width="1.45" />
<rect x="480.00" y="56.54" width="11.40" height="5.74" fill="#d40a12" stroke="#000" stroke-width="1.45" />
<rect x="480.00" y="23.40" width="11.40" height="33.14" fill="#dc080e" stroke="#000" stroke-width="1.45" />
<text transform="translate(486.70,175.41) scale(1.0,1.05)" font-size="5.8" text-anchor="middle" font-weight="bold" fill="#fff" stroke="#fff" stroke-width="0.35" >63%</text>
<text transform="translate(486.70,100.29) scale(1.0,1.05)" font-size="5.8" text-anchor="middle" font-weight="bold" fill="#fff" stroke="#fff" stroke-width="0.35" >5%</text>
<text transform="translate(486.70,91.35) scale(1.0,1.05)" font-size="5.8" text-anchor="middle" font-weight="bold" fill="#fff" stroke="#fff" stroke-width="0.35" >3.1%</text>
<text transform="translate(486.70,85.27) scale(1.0,1.05)" font-size="5.8" text-anchor="middle" font-weight="bold" fill="#fff" stroke="#fff" stroke-width="0.35" >2.4%</text>
<text transform="translate(486.70,80.30) scale(1.0,1.05)" font-size="5.8" text-anchor="middle" font-weight="bold" fill="#fff" stroke="#fff" stroke-width="0.35" >2.1%</text>
<text transform="translate(486.70,75.99) scale(1.0,1.05)" font-size="5.8" text-anchor="middle" font-weight="bold" fill="#fff" stroke="#fff" stroke-width="0.35" >1.8%</text>
<text transform="translate(486.70,71.79) scale(1.0,1.05)" font-size="5.8" text-anchor="middle" font-weight="bold" fill="#fff" stroke="#fff" stroke-width="0.35" >2%</text>
<text transform="translate(486.70,66.93) scale(1.0,1.05)" font-size="5.8" text-anchor="middle" font-weight="bold" fill="#fff" stroke="#fff" stroke-width="0.35" >2.4%</text>
<text transform="translate(486.70,61.41) scale(1.0,1.05)" font-size="5.8" text-anchor="middle" font-weight="bold" fill="#fff" stroke="#fff" stroke-width="0.35" >2.6%</text>
<text transform="translate(486.70,41.97) scale(1.0,1.05)" font-size="5.8" text-anchor="middle" font-weight="bold" fill="#fff" stroke="#fff" stroke-width="0.35" >15%</text>
<rect x="481.10" y="246.00" width="8.4" height="22" rx="2" fill="#ededf7"/>
<text transform="translate(487.10,257.00) rotate(-90) scale(1.0,1.12)" font-size="7.6" text-anchor="middle" font-weight="normal" fill="#22224a" stroke="#22224a" stroke-width="0.4" >&gt;=100</text>
<text transform="translate(386.70,278.80) scale(1.0,1.12)" font-size="8.2" text-anchor="middle" font-weight="normal" fill="#000" stroke="#000" stroke-width="0.4" >read counts per isoform</text>
<text transform="translate(262.50,119.30) rotate(-90) scale(1.0,1.12)" font-size="8.1" text-anchor="middle" font-weight="normal" fill="#000" stroke="#000" stroke-width="0.4" >percentage of isoforms(%)</text>
<rect x="504.70" y="35.00" width="62.00" height="121.90" fill="#fff" stroke="#000" stroke-width="1.4" />
<text transform="translate(511.00,46.60) scale(1.0,1.12)" font-size="6.9" text-anchor="start" font-weight="normal" fill="#000" stroke="#000" stroke-width="0.4" >% samples w/</text>
<text transform="translate(511.00,55.20) scale(1.0,1.12)" font-size="6.9" text-anchor="start" font-weight="normal" fill="#000" stroke="#000" stroke-width="0.4" >detection</text>
<rect x="509.40" y="61.10" width="4.00" height="4.00" fill="#dc080e" stroke="#111" stroke-width="1.5" />
<text transform="translate(518.30,65.60) scale(1.0,1.12)" font-size="6.9" text-anchor="start" font-weight="normal" fill="#000" stroke="#000" stroke-width="0.4" >&gt;90%,&lt;=100%</text>
<rect x="509.40" y="71.75" width="4.00" height="4.00" fill="#d40a12" stroke="#111" stroke-width="1.5" />
<text transform="translate(518.30,76.25) scale(1.0,1.12)" font-size="6.9" text-anchor="start" font-weight="normal" fill="#000" stroke="#000" stroke-width="0.4" >&gt;80%,&lt;=90%</text>
<rect x="509.40" y="82.00" width="4.00" height="4.00" fill="#c30d18" stroke="#111" stroke-width="1.5" />
<text transform="translate(518.30,86.50) scale(1.0,1.12)" font-size="6.9" text-anchor="start" font-weight="normal" fill="#000" stroke="#000" stroke-width="0.4" >&gt;70%,&lt;=80%</text>
<rect x="509.40" y="92.40" width="4.00" height="4.00" fill="#aa0f21" stroke="#111" stroke-width="1.5" />
<text transform="translate(518.30,96.90) scale(1.0,1.12)" font-size="6.9" text-anchor="start" font-weight="normal" fill="#000" stroke="#000" stroke-width="0.4" >&gt;60%,&lt;=70%</text>
<rect x="509.40" y="103.00" width="4.00" height="4.00" fill="#8c102a" stroke="#111" stroke-width="1.5" />
<text transform="translate(518.30,107.50) scale(1.0,1.12)" font-size="6.9" text-anchor="start" font-weight="normal" fill="#000" stroke="#000" stroke-width="0.4" >&gt;50%,&lt;=60%</text>
<rect x="509.40" y="112.40" width="4.00" height="4.00" fill="#6e1337" stroke="#111" stroke-width="1.5" />
<text transform="translate(518.30,116.90) scale(1.0,1.12)" font-size="6.9" text-anchor="start" font-weight="normal" fill="#000" stroke="#000" stroke-width="0.4" >&gt;40%,&lt;=50%</text>
<rect x="509.40" y="121.50" width="4.00" height="4.00" fill="#521648" stroke="#111" stroke-width="1.5" />
<text transform="translate(518.30,126.00) scale(1.0,1.12)" font-size="6.9" text-anchor="start" font-weight="normal" fill="#000" stroke="#000" stroke-width="0.4" >&gt;30%,&lt;=40%</text>
<rect x="509.40" y="130.50" width="4.00" height="4.00" fill="#3a1e64" stroke="#111" stroke-width="1.5" />
<text transform="translate(518.30,135.00) scale(1.0,1.12)" font-size="6.9" text-anchor="start" font-weight="normal" fill="#000" stroke="#000" stroke-width="0.4" >&gt;20%,&lt;=30%</text>
<rect x="509.40" y="139.90" width="4.00" height="4.00" fill="#2a237a" stroke="#111" stroke-width="1.5" />
<text transform="translate(518.30,144.40) scale(1.0,1.12)" font-size="6.9" text-anchor="start" font-weight="normal" fill="#000" stroke="#000" stroke-width="0.4" >&gt;10%,&lt;=20%</text>
<rect x="509.40" y="148.00" width="4.00" height="4.00" fill="#262180" stroke="#111" stroke-width="1.5" />
<text transform="translate(518.30,152.50) scale(1.0,1.12)" font-size="6.9" text-anchor="start" font-weight="normal" fill="#000" stroke="#000" stroke-width="0.4" >&lt;=10%</text>
<text transform="translate(-0.40,303.80)" font-size="20" text-anchor="start" font-weight="bold" fill="#000" stroke="#000" stroke-width="0.4" >C</text>
<line x1="40.80" y1="321.87" x2="40.80" y2="499.75" stroke="#000" stroke-width="1.5" />
<line x1="36.10" y1="499.15" x2="40.80" y2="499.15" stroke="#000" stroke-width="1.35" />
<text transform="translate(29.70,497.55) rotate(-90) scale(1.0,1.12)" font-size="7.8" text-anchor="middle" font-weight="normal" fill="#000" stroke="#000" stroke-width="0.4" >0</text>
<line x1="36.10" y1="473.91" x2="40.80" y2="473.91" stroke="#000" stroke-width="1.35" />
<text transform="translate(29.70,472.31) rotate(-90) scale(1.0,1.12)" font-size="7.8" text-anchor="middle" font-weight="normal" fill="#000" stroke="#000" stroke-width="0.4" >1000</text>
<line x1="36.10" y1="448.67" x2="40.80" y2="448.67" stroke="#000" stroke-width="1.35" />
<text transform="translate(29.70,447.07) rotate(-90) scale(1.0,1.12)" font-size="7.8" text-anchor="middle" font-weight="normal" fill="#000" stroke="#000" stroke-width="0.4" >2000</text>
<line x1="36.10" y1="423.43" x2="40.80" y2="423.43" stroke="#000" stroke-width="1.35" />
<text transform="translate(29.70,421.83) rotate(-90) scale(1.0,1.12)" font-size="7.8" text-anchor="middle" font-weight="normal" fill="#000" stroke="#000" stroke-width="0.4" >3000</text>
<line x1="36.10" y1="398.19" x2="40.80" y2="398.19" stroke="#000" stroke-width="1.35" />
<text transform="translate(29.70,396.59) rotate(-90) scale(1.0,1.12)" font-size="7.8" text-anchor="middle" font-weight="normal" fill="#000" stroke="#000" stroke-width="0.4" >4000</text>
<line x1="36.10" y1="372.95" x2="40.80" y2="372.95" stroke="#000" stroke-width="1.35" />
<text transform="translate(29.70,371.35) rotate(-90) scale(1.0,1.12)" font-size="7.8" text-anchor="middle" font-weight="normal" fill="#000" stroke="#000" stroke-width="0.4" >5000</text>
<line x1="36.10" y1="347.71" x2="40.80" y2="347.71" stroke="#000" stroke-width="1.35" />
<text transform="translate(29.70,346.11) rotate(-90) scale(1.0,1.12)" font-size="7.8" text-anchor="middle" font-weight="normal" fill="#000" stroke="#000" stroke-width="0.4" >6000</text>
<line x1="36.10" y1="322.47" x2="40.80" y2="322.47" stroke="#000" stroke-width="1.35" />
<text transform="translate(29.70,320.87) rotate(-90) scale(1.0,1.12)" font-size="7.8" text-anchor="middle" font-weight="normal" fill="#000" stroke="#000" stroke-width="0.4" >7000</text>
<rect x="48.75" y="316.16" width="14.05" height="182.99" fill="#272280" stroke="#000" stroke-width="1.4" />
<rect x="49.45" y="316.86" width="12.65" height="181.59" fill="url(#dots)" stroke="none" stroke-width="1" />
<rect x="62.80" y="396.93" width="14.05" height="102.22" fill="#2a2580" stroke="#000" stroke-width="1.4" />
<rect x="76.85" y="433.02" width="14.05" height="66.13" fill="#2b2480" stroke="#000" stroke-width="1.4" />
<rect x="90.90" y="462.55" width="14.05" height="36.60" fill="#45206a" stroke="#000" stroke-width="1.4" />
<rect x="91.60" y="463.25" width="12.65" height="35.20" fill="url(#dots)" stroke="none" stroke-width="1" />
<rect x="104.95" y="480.98" width="14.05" height="18.17" fill="#5a1c5e" stroke="#000" stroke-width="1.4" />
<rect x="105.65" y="481.68" width="12.65" height="16.77" fill="url(#dots)" stroke="none" stroke-width="1" />
<rect x="119.00" y="490.82" width="14.05" height="8.33" fill="#701a50" stroke="#000" stroke-width="1.4" />
<rect x="119.70" y="491.52" width="12.65" height="6.93" fill="url(#dots)" stroke="none" stroke-width="1" />
<rect x="133.05" y="494.61" width="14.05" height="4.54" fill="#8a1440" stroke="#000" stroke-width="1.4" />
<rect x="133.75" y="495.31" width="12.65" height="3.14" fill="url(#dots)" stroke="none" stroke-width="1" />
<rect x="147.10" y="496.37" width="14.05" height="2.78" fill="#a01034" stroke="#000" stroke-width="1.4" />
<rect x="147.80" y="497.07" width="12.65" height="1.38" fill="url(#dots)" stroke="none" stroke-width="1" />
<rect x="161.15" y="498.01" width="14.05" height="1.14" fill="#b00c2c" stroke="#000" stroke-width="1.4" />
<rect x="175.20" y="498.52" width="14.05" height="0.63" fill="#5050a0" stroke="#2a2a78" stroke-width="1.4" />
<rect x="189.25" y="498.77" width="14.05" height="0.38" fill="#5050a0" stroke="#2a2a78" stroke-width="1.4" />
<rect x="203.30" y="498.95" width="14.05" height="0.20" fill="#5050a0" stroke="#2a2a78" stroke-width="1.4" />
<rect x="217.35" y="499.05" width="14.05" height="0.10" fill="#5050a0" stroke="#2a2a78" stroke-width="1.4" />
<rect x="231.40" y="499.07" width="14.05" height="0.08" fill="#5050a0" stroke="#2a2a78" stroke-width="1.4" />
<line x1="48.05" y1="506.10" x2="246.15" y2="506.10" stroke="#000" stroke-width="1.5" />
<line x1="48.75" y1="506.10" x2="48.75" y2="510.40" stroke="#000" stroke-width="1.4" />
<text transform="translate(48.75,519.80) scale(1.0,1.12)" font-size="7.8" text-anchor="middle" font-weight="normal" fill="#000" stroke="#000" stroke-width="0.4" >0</text>
<line x1="76.85" y1="506.10" x2="76.85" y2="510.40" stroke="#000" stroke-width="1.4" />
<text transform="translate(76.85,519.80) scale(1.0,1.12)" font-size="7.8" text-anchor="middle" font-weight="normal" fill="#000" stroke="#000" stroke-width="0.4" >2</text>
<line x1="104.95" y1="506.10" x2="104.95" y2="510.40" stroke="#000" stroke-width="1.4" />
<text transform="translate(104.95,519.80) scale(1.0,1.12)" font-size="7.8" text-anchor="middle" font-weight="normal" fill="#000" stroke="#000" stroke-width="0.4" >4</text>
<line x1="133.05" y1="506.10" x2="133.05" y2="510.40" stroke="#000" stroke-width="1.4" />
<text transform="translate(133.05,519.80) scale(1.0,1.12)" font-size="7.8" text-anchor="middle" font-weight="normal" fill="#000" stroke="#000" stroke-width="0.4" >6</text>
<line x1="161.15" y1="506.10" x2="161.15" y2="510.40" stroke="#000" stroke-width="1.4" />
<text transform="translate(161.15,519.80) scale(1.0,1.12)" font-size="7.8" text-anchor="middle" font-weight="normal" fill="#000" stroke="#000" stroke-width="0.4" >8</text>
<line x1="189.25" y1="506.10" x2="189.25" y2="510.40" stroke="#000" stroke-width="1.4" />
<text transform="translate(189.25,519.80) scale(1.0,1.12)" font-size="7.8" text-anchor="middle" font-weight="normal" fill="#000" stroke="#000" stroke-width="0.4" >10</text>
<line x1="217.35" y1="506.10" x2="217.35" y2="510.40" stroke="#000" stroke-width="1.4" />
<text transform="translate(217.35,519.80) scale(1.0,1.12)" font-size="7.8" text-anchor="middle" font-weight="normal" fill="#000" stroke="#000" stroke-width="0.4" >12</text>
<line x1="245.45" y1="506.10" x2="245.45" y2="510.40" stroke="#000" stroke-width="1.4" />
<text transform="translate(245.45,519.80) scale(1.0,1.12)" font-size="7.8" text-anchor="middle" font-weight="normal" fill="#000" stroke="#000" stroke-width="0.4" >14</text>
<text transform="translate(155.00,533.20) scale(1.0,1.12)" font-size="8.2" text-anchor="middle" font-weight="normal" fill="#000" stroke="#000" stroke-width="0.4" ># isoform per gene</text>
<text transform="translate(14.80,407.40) rotate(-90) scale(1.0,1.12)" font-size="8" text-anchor="middle" font-weight="normal" fill="#000" stroke="#000" stroke-width="0.4" ># genes</text>
<text transform="translate(254.00,303.80) scale(0.9,1.0)" font-size="20" text-anchor="start" font-weight="bold" fill="#000" stroke="#000" stroke-width="0.4" >D</text>
<line x1="300.00" y1="320.90" x2="300.00" y2="499.00" stroke="#000" stroke-width="1.5" />
<line x1="296.20" y1="495.00" x2="300.00" y2="495.00" stroke="#000" stroke-width="1.4" />
<text transform="translate(291.90,496.60) rotate(-90) scale(1.0,1.12)" font-size="7.6" text-anchor="middle" font-weight="normal" fill="#000" stroke="#000" stroke-width="0.4" >0</text>
<line x1="296.20" y1="473.05" x2="300.00" y2="473.05" stroke="#000" stroke-width="1.4" />
<text transform="translate(291.90,472.35) rotate(-90) scale(1.0,1.12)" font-size="7.6" text-anchor="middle" font-weight="normal" fill="#000" stroke="#000" stroke-width="0.4" >1000</text>
<line x1="296.20" y1="447.80" x2="300.00" y2="447.80" stroke="#000" stroke-width="1.4" />
<text transform="translate(291.90,447.10) rotate(-90) scale(1.0,1.12)" font-size="7.6" text-anchor="middle" font-weight="normal" fill="#000" stroke="#000" stroke-width="0.4" >2000</text>
<line x1="296.20" y1="422.55" x2="300.00" y2="422.55" stroke="#000" stroke-width="1.4" />
<text transform="translate(291.90,421.85) rotate(-90) scale(1.0,1.12)" font-size="7.6" text-anchor="middle" font-weight="normal" fill="#000" stroke="#000" stroke-width="0.4" >3000</text>
<line x1="296.20" y1="397.30" x2="300.00" y2="397.30" stroke="#000" stroke-width="1.4" />
<text transform="translate(291.90,396.60) rotate(-90) scale(1.0,1.12)" font-size="7.6" text-anchor="middle" font-weight="normal" fill="#000" stroke="#000" stroke-width="0.4" >4000</text>
<line x1="296.20" y1="372.05" x2="300.00" y2="372.05" stroke="#000" stroke-width="1.4" />
<text transform="translate(291.90,371.35) rotate(-90) scale(1.0,1.12)" font-size="7.6" text-anchor="middle" font-weight="normal" fill="#000" stroke="#000" stroke-width="0.4" >5000</text>
<line x1="296.20" y1="346.80" x2="300.00" y2="346.80" stroke="#000" stroke-width="1.4" />
<text transform="translate(291.90,346.10) rotate(-90) scale(1.0,1.12)" font-size="7.6" text-anchor="middle" font-weight="normal" fill="#000" stroke="#000" stroke-width="0.4" >6000</text>
<line x1="296.20" y1="321.55" x2="300.00" y2="321.55" stroke="#000" stroke-width="1.4" />
<text transform="translate(291.90,320.85) rotate(-90) scale(1.0,1.12)" font-size="7.6" text-anchor="middle" font-weight="normal" fill="#000" stroke="#000" stroke-width="0.4" >7000</text>
<rect x="308.00" y="498.50" width="9.90" height="0.30" fill="#fff" stroke="#000" stroke-width="1.3" />
<rect x="317.90" y="498.50" width="9.90" height="0.30" fill="#fff" stroke="#000" stroke-width="1.3" />
<rect x="327.80" y="498.30" width="9.90" height="0.30" fill="#fff" stroke="#000" stroke-width="1.3" />
<rect x="337.70" y="497.60" width="9.90" height="0.90" fill="#fff" stroke="#000" stroke-width="1.3" />
<rect x="347.60" y="496.40" width="9.90" height="2.10" fill="#fff" stroke="#000" stroke-width="1.3" />
<rect x="357.50" y="493.00" width="9.90" height="5.50" fill="#fff" stroke="#000" stroke-width="1.3" />
<rect x="367.40" y="486.00" width="9.90" height="12.50" fill="#fff" stroke="#000" stroke-width="1.3" />
<rect x="377.30" y="474.10" width="9.90" height="24.40" fill="#fff" stroke="#000" stroke-width="1.3" />
<rect x="387.20" y="458.30" width="9.90" height="40.20" fill="#fff" stroke="#000" stroke-width="1.3" />
<rect x="397.10" y="430.60" width="9.90" height="67.90" fill="#fff" stroke="#000" stroke-width="1.3" />
<rect x="407.00" y="390.40" width="9.90" height="108.10" fill="#fff" stroke="#000" stroke-width="1.3" />
<rect x="416.90" y="346.70" width="9.90" height="151.80" fill="#fff" stroke="#000" stroke-width="1.3" />
<rect x="426.80" y="339.90" width="9.90" height="158.60" fill="#fff" stroke="#000" stroke-width="1.3" />
<rect x="436.70" y="351.80" width="9.90" height="146.70" fill="#fff" stroke="#000" stroke-width="1.3" />
<rect x="446.60" y="374.40" width="9.90" height="124.10" fill="#fff" stroke="#000" stroke-width="1.3" />
<rect x="456.50" y="404.50" width="9.90" height="94.00" fill="#fff" stroke="#121238" stroke-width="1.3" />
<rect x="466.40" y="430.10" width="9.90" height="68.40" fill="#fff" stroke="#121238" stroke-width="1.3" />
<rect x="476.30" y="456.60" width="9.90" height="41.90" fill="#fff" stroke="#202060" stroke-width="1.3" />
<rect x="486.20" y="478.70" width="9.90" height="19.80" fill="#fff" stroke="#202060" stroke-width="1.3" />
<rect x="496.10" y="494.90" width="9.90" height="3.60" fill="#fff" stroke="#202060" stroke-width="1.3" />
<line x1="476.00" y1="500.40" x2="506.50" y2="500.40" stroke="#b4b4e0" stroke-width="1.0" />
<line x1="476.30" y1="498.50" x2="506.00" y2="498.50" stroke="#202060" stroke-width="1.3" />
<line x1="307.30" y1="502.40" x2="499.70" y2="502.40" stroke="#000" stroke-width="1.5" />
<line x1="499.70" y1="502.40" x2="506.50" y2="502.40" stroke="#9090c8" stroke-width="1.3" />
<line x1="308.00" y1="502.40" x2="308.00" y2="506.60" stroke="#000" stroke-width="1.4" />
<line x1="357.40" y1="502.40" x2="357.40" y2="506.60" stroke="#000" stroke-width="1.4" />
<line x1="400.30" y1="502.40" x2="400.30" y2="506.60" stroke="#000" stroke-width="1.4" />
<line x1="449.40" y1="502.40" x2="449.40" y2="506.60" stroke="#000" stroke-width="1.4" />
<line x1="499.00" y1="502.40" x2="499.00" y2="506.60" stroke="#000" stroke-width="1.4" />
<text transform="translate(311.60,516.60) scale(1.0,1.12)" font-size="7.4" text-anchor="middle" font-weight="normal" fill="#000" stroke="#000" stroke-width="0.4" >−1.0</text>
<text transform="translate(360.30,516.60) scale(1.0,1.12)" font-size="7.4" text-anchor="middle" font-weight="normal" fill="#000" stroke="#000" stroke-width="0.4" >−0.5</text>
<text transform="translate(409.10,516.60) scale(1.0,1.12)" font-size="7.4" text-anchor="middle" font-weight="normal" fill="#000" stroke="#000" stroke-width="0.4" >0.0</text>
<text transform="translate(452.20,516.60) scale(1.0,1.12)" font-size="7.4" text-anchor="middle" font-weight="normal" fill="#000" stroke="#000" stroke-width="0.4" >0.5</text>
<text transform="translate(501.40,516.60) scale(1.0,1.12)" font-size="7.4" text-anchor="middle" font-weight="normal" fill="#000" stroke="#000" stroke-width="0.4" >1.0</text>
<text transform="translate(419.90,531.60) scale(1.0,1.12)" font-size="7.9" text-anchor="middle" font-weight="normal" fill="#000" stroke="#000" stroke-width="0.4" >Pearson correlation</text>
<text transform="translate(275.70,402.50) rotate(-90) scale(1.0,1.12)" font-size="8.2" text-anchor="middle" font-weight="normal" fill="#000" stroke="#000" stroke-width="0.4" ># isoform pairs</text>
</svg>
</body></html>
